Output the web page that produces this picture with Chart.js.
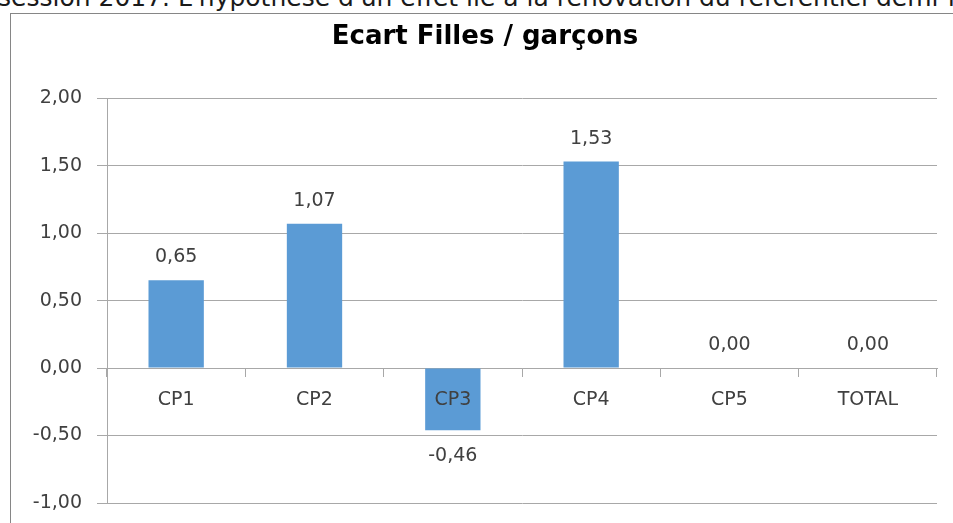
<!DOCTYPE html>
<html>
<head>
<meta charset="utf-8">
<script src="https://cdn.jsdelivr.net/npm/chart.js@4"></script>
<style>
  html, body { margin: 0; padding: 0; background: #fff; overflow: hidden; width: 953px; height: 523px; }
  #intro {
    position: absolute; left: -2px; top: -15px; white-space: nowrap;
    font: 25px/25px "DejaVu Sans", sans-serif; color: #1a1a1a;
  }
  #frame {
    position: absolute; left: 10px; top: 13px; width: 950px; height: 520px;
    border: 1px solid #868686;
  }
</style>
</head>
<body>
<div id="intro">session 2017. L'hypothèse d'un effet lié à la rénovation du référentiel demi-fond</div>
<div id="frame"><canvas id="ecartChart" width="950" height="520"></canvas></div>
<script>
const categories = ['CP1', 'CP2', 'CP3', 'CP4', 'CP5', 'TOTAL'];
const ecartValues = [0.65, 1.07, -0.46, 1.53, 0.00, 0.00];
const yTicks = [2.00, 1.50, 1.00, 0.50, 0.00, -0.50, -1.00];

const fmt = v => Number(v).toFixed(2).replace('.', ',');
const gridGray = '#a8a8a8';
const textGray = '#404040';
const labelFont = { family: 'DejaVu Sans', size: 19 };

// value labels above / below each bar
const valueLabels = {
    id: 'valueLabels',
    afterDatasetsDraw(chart) {
        const ctx = chart.ctx;
        const meta = chart.getDatasetMeta(0);
        ctx.save();
        ctx.font = '19px "DejaVu Sans"';
        ctx.fillStyle = textGray;
        ctx.textAlign = 'center';
        ctx.textBaseline = 'middle';
        meta.data.forEach((bar, i) => {
            const v = ecartValues[i];
            const y = v < 0 ? bar.y + 26 : bar.y - 23;
            ctx.fillText(fmt(v), bar.x, y);
        });
        ctx.restore();
    }
};

new Chart(document.getElementById('ecartChart'), {
    type: 'bar',
    data: {
        labels: categories,
        datasets: [{
            label: 'Ecart',
            data: ecartValues,
            backgroundColor: '#5b9bd5',
            borderWidth: 0,
            categoryPercentage: 1,
            barPercentage: 0.4
        }]
    },
    options: {
        responsive: false,
        animation: false,
        layout: { padding: { left: 22, right: 24, top: 0, bottom: 31 } },
        plugins: {
            legend: { display: false },
            tooltip: { enabled: false },
            title: {
                display: true,
                text: 'Ecart Filles / garçons',
                color: '#000',
                font: { family: 'DejaVu Sans', size: 26, weight: 'bold' },
                padding: { top: 8, bottom: 45 }
            }
        },
        scales: {
            x: {
                position: { y: 0 },
                grid: {
                    offset: true,
                    drawOnChartArea: false,
                    drawTicks: true,
                    tickLength: 8,
                    color: gridGray
                },
                border: { color: gridGray, width: 1 },
                // z 1 so the CP3 label sits on top of its bar, as in Excel
                ticks: { z: 1, color: textGray, font: labelFont, padding: 13, maxRotation: 0 }
            },
            y: {
                min: -1,
                max: 2,
                afterFit: scale => { scale.width = 74; },
                afterBuildTicks: scale => { scale.ticks = yTicks.map(v => ({ value: v })); },
                grid: { color: gridGray, tickLength: 10 },
                border: { color: gridGray, width: 1 },
                ticks: {
                    color: textGray,
                    font: labelFont,
                    padding: 15,
                    callback: v => fmt(v)
                }
            }
        }
    },
    plugins: [valueLabels]
});
</script>
</body>
</html>
